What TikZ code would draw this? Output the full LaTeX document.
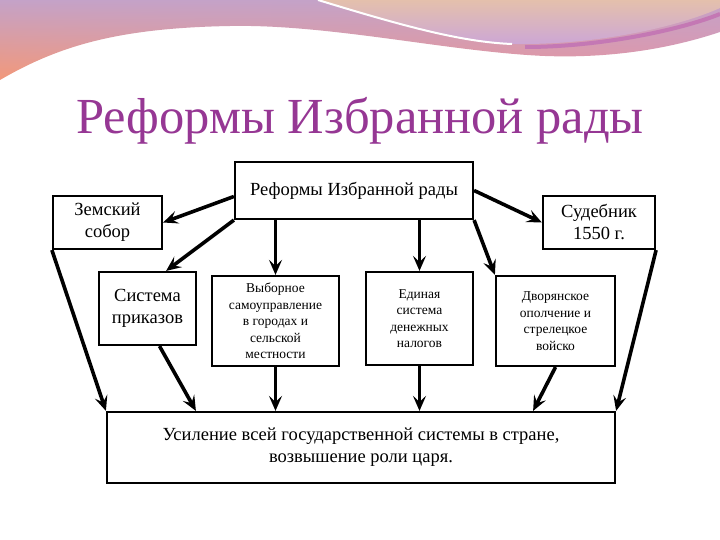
\documentclass[tikz,border=0pt]{standalone}
\usepackage{fontspec}
\setmainfont{Liberation Serif}
\usetikzlibrary{arrows.meta}
\usetikzlibrary{calc}
\usetikzlibrary{shadings}
\definecolor{titlecol}{RGB}{150,55,148}
\definecolor{wavelav}{RGB}{196,162,200}
\definecolor{waveorange}{RGB}{242,152,122}
\definecolor{wavepink}{RGB}{226,148,168}
\definecolor{ovalpeach}{RGB}{228,192,172}
\definecolor{ovallav}{RGB}{204,166,214}
\definecolor{mauve}{RGB}{196,120,180}
\begin{document}
\begin{tikzpicture}[x=1pt,y=-1pt]

  \tikzset{box/.style = {draw,line width=2.2pt,align=center,inner sep=0pt,font=\fontsize{18.5}{22}\selectfont}}
  \tikzset{small/.style = {font=\fontsize{13.5}{16.5}\selectfont}}
  \tikzset{link/.style = {-{Stealth[length=15pt,width=13pt,inset=6pt]},line width=3.6pt}}
  \useasboundingbox (0,0) rectangle (720,540);
  \fill[white] (0,0) rectangle (720,540);
  % wave
  \shade[upper left=wavelav,upper right=wavelav,lower left=waveorange,lower right=wavepink]
    (0,0) -- (720,0) -- (720,32) .. controls (660,52) and (600,58) .. (545,56)
    .. controls (450,52) and (330,24) .. (230,26) .. controls (120,28) and (60,45) .. (0,80) -- cycle;
  \shade[top color=ovalpeach,bottom color=ovallav]
    (318,0) .. controls (400,25) and (460,42) .. (515,44) .. controls (600,45) and (680,26) .. (720,8) -- (720,0) -- cycle;
  \draw[mauve,line width=4pt] (525,47) .. controls (600,47) and (680,30) .. (720,14);
  \draw[white,line width=2pt] (318,0) .. controls (400,25) and (460,42) .. (512,44);
  % title
  \node[titlecol,font=\fontsize{50.5}{58}\selectfont,anchor=base] (t) at (360,134) {Реформы Избранной рады};
  % boxes
  \node[box,minimum width=238pt,minimum height=57pt] (r) at (354,190.5) {Реформы Избранной рады};
  \node[box,minimum width=109pt,minimum height=53pt] (z) at (107.5,222.5) {Земский\\собор};
  \node[box,minimum width=112pt,minimum height=53pt] (s) at (599,222.5) {Судебник\\1550 г.};
  \node[box,minimum width=97pt,minimum height=73pt] (p) at (147.5,308.5) {Система\\приказов};
  \node[box,small,minimum width=127pt,minimum height=90pt] (v) at (275.5,321) {Выборное\\самоуправление\\в городах и\\сельской\\местности};
  \node[box,small,minimum width=107pt,minimum height=93pt] (n) at (419.5,318.5) {Единая\\система\\денежных\\налогов};
  \node[box,small,minimum width=119pt,minimum height=90pt] (d) at (555.5,321) {Дворянское\\ополчение и\\стрелецкое\\войско};
  \node[box,minimum width=508pt,minimum height=71pt] (u) at (361,447.5) {Усиление всей государственной системы в стране,\\возвышение роли царя.};
  %arrows
  \draw[link] ($(r.west)+(0,6)$) -- (z.east);
  \draw[link] (r.south west) -- ($(p.north east)+(-31,0)$);
  \draw[link] (v.north |- r.south) -- (v.north);
  \draw[link] (n.north |- r.south) -- (n.north);
  \draw[link] (r.east) -- (s.west);
  \draw[link] (r.south east) -- (d.north west);
  \draw[link] (z.south west) -- (u.north west);
  \draw[link] ($(p.south)+(12,0)$) -- ($(u.north west)+(90,0)$);
  \draw[link] (v.south) -- (v.south |- u.north);
  \draw[link] (n.south) -- (n.south |- u.north);
  \draw[link] (d.south) -- ($(u.north east)+(-83,0)$);
  \draw[link] (s.south east) -- (u.north east);
\end{tikzpicture}
\end{document}
